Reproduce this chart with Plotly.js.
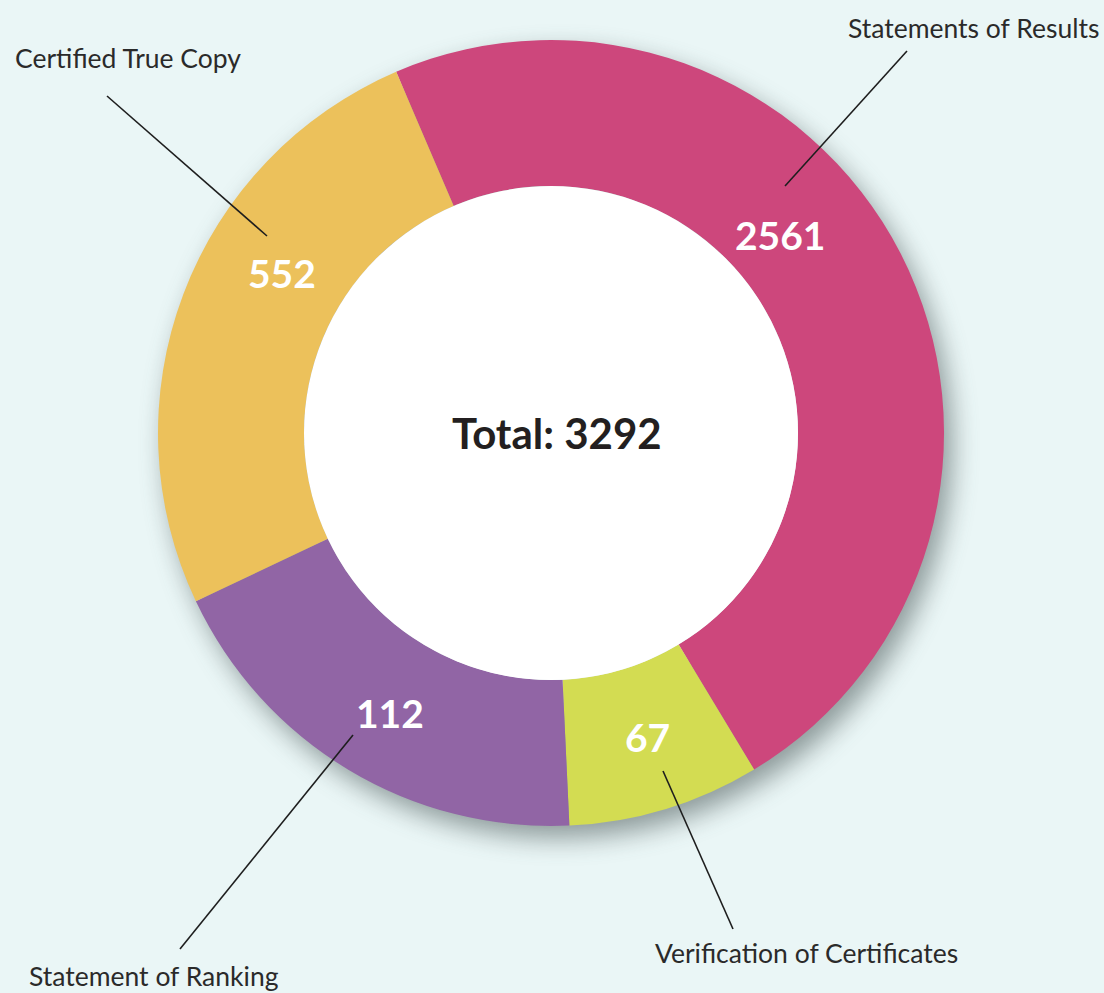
<!DOCTYPE html>
<html>
<head>
<meta charset="utf-8">
<script src="https://cdn.plot.ly/plotly-3.0.1.min.js"></script>
<style>
  html, body { margin: 0; padding: 0; background: #EAF6F6; }
  #chart { width: 1104px; height: 993px; }
  .pielayer .trace { filter: drop-shadow(8px 12px 13px rgba(40,55,55,0.48)); }
</style>
</head>
<body>
<div id="chart"></div>
<script>
// Data
const categories = ["Statements of Results", "Verification of Certificates", "Statement of Ranking", "Certified True Copy"];
const counts = [2561, 67, 112, 552];
// Slice shares as drawn in the infographic (not proportional to counts)
const shares = [47.8, 7.9, 18.7, 25.6];
const colors = ["#CD477C", "#D3DC52", "#9165A5", "#ECC15B"];
const totalLabel = "Total: 3292";

const W = 1104, H = 993;
const px = x => x / W;
const py = y => 1 - y / H;

const cx = 551, cy = 433, R = 393, r = 247;

// label layout (pixel positions)
const numberPos = [[780, 235], [647, 737], [390, 713], [282, 273]];
const namePos = [[973, 28], [806, 953], [154, 976], [128, 58]];
const leaders = [
  [[907, 51], [785, 186]],
  [[733, 929], [663, 771]],
  [[180, 949], [353, 735]],
  [[107, 96], [267, 236]]
];

const trace = {
  type: "pie",
  values: shares,
  labels: categories,
  marker: { colors: colors, line: { width: 0 } },
  hole: r / R,
  sort: false,
  direction: "clockwise",
  rotation: -23.2,
  textinfo: "none",
  hoverinfo: "skip",
  domain: { x: [px(cx - R), px(cx + R)], y: [py(cy + R), py(cy - R)] },
  showlegend: false
};

const annotations = [];
const shapes = [];

shapes.push({
  type: "circle", xref: "paper", yref: "paper",
  x0: px(cx - r), x1: px(cx + r), y0: py(cy + r), y1: py(cy - r),
  fillcolor: "#FFFFFF", line: { width: 0 }, layer: "above"
});

categories.forEach((c, i) => {
  annotations.push({
    xref: "paper", yref: "paper", x: px(numberPos[i][0]), y: py(numberPos[i][1]),
    text: "<b>" + counts[i] + "</b>", showarrow: false,
    font: { family: "Lato, 'Open Sans', sans-serif", size: 39, color: "#FFFFFF" },
    xanchor: "center", yanchor: "middle"
  });
  annotations.push({
    xref: "paper", yref: "paper", x: px(namePos[i][0]), y: py(namePos[i][1]),
    text: c, showarrow: false,
    font: { family: "Lato, 'Open Sans', sans-serif", size: 26.5, color: "#2A2A2A" },
    xanchor: "center", yanchor: "middle"
  });
  shapes.push({
    type: "line", xref: "paper", yref: "paper",
    x0: px(leaders[i][0][0]), y0: py(leaders[i][0][1]),
    x1: px(leaders[i][1][0]), y1: py(leaders[i][1][1]),
    line: { color: "#1E1E1E", width: 1.6 }, layer: "above"
  });
});

annotations.push({
  xref: "paper", yref: "paper", x: px(557), y: py(433),
  text: "<b>" + totalLabel + "</b>", showarrow: false,
  font: { family: "Lato, 'Open Sans', sans-serif", size: 42, color: "#231F20" },
  xanchor: "center", yanchor: "middle"
});

const layout = {
  width: W, height: H,
  margin: { l: 0, r: 0, t: 0, b: 0 },
  paper_bgcolor: "#EAF6F6",
  plot_bgcolor: "#EAF6F6",
  showlegend: false,
  annotations: annotations,
  shapes: shapes
};

Plotly.newPlot("chart", [trace], layout, { displayModeBar: false, staticPlot: true });
</script>
</body>
</html>
